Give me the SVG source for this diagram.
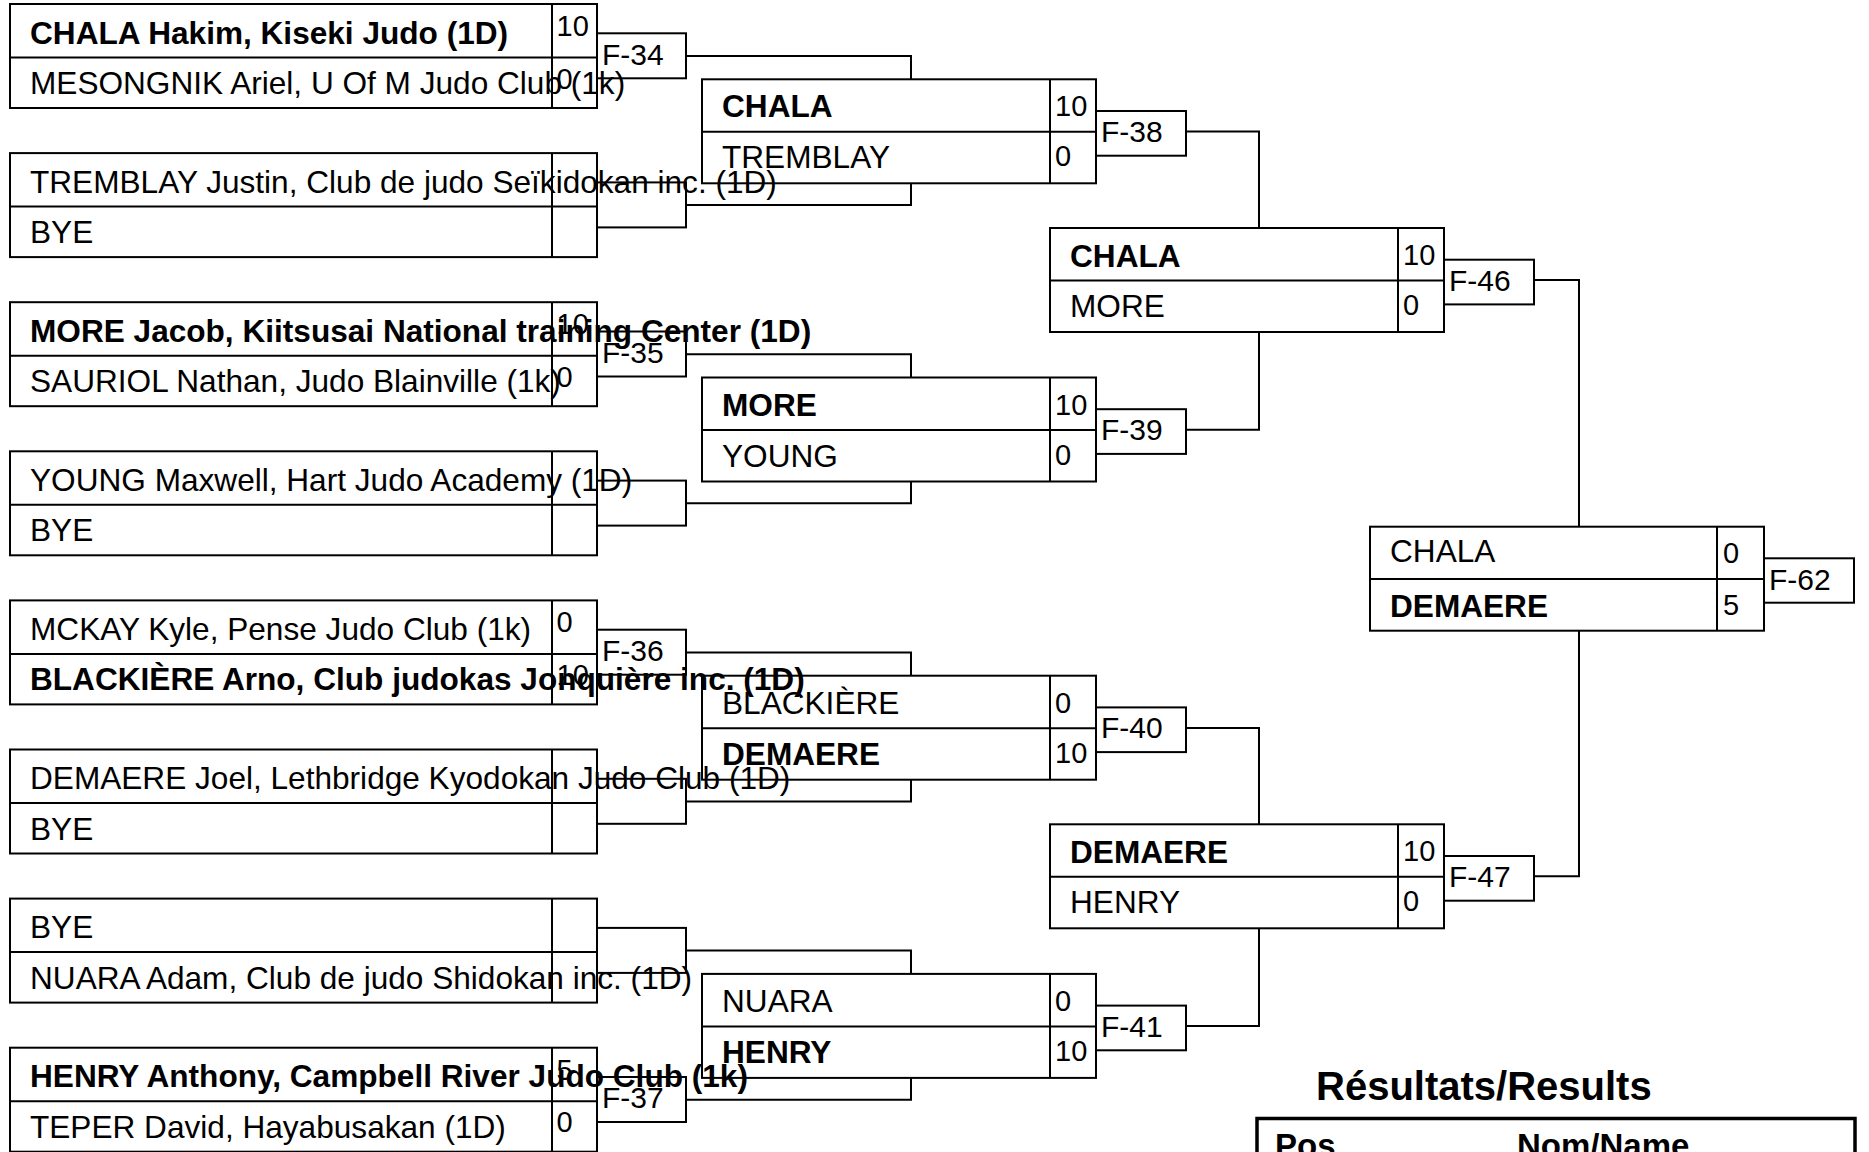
<svg xmlns="http://www.w3.org/2000/svg" width="1869" height="1152" viewBox="0 0 1869 1152">
<style>
  .b { fill: none; stroke: #000; stroke-width: 2; }
  .c { fill: none; stroke: #000; stroke-width: 2; }
  text { font-family: "Liberation Sans", Arial, sans-serif; fill: #000; }
  .n { font-size: 31.6px; }
  .w { font-size: 31.6px; font-weight: bold; }
  .s { font-size: 29px; }
  .f { font-size: 30px; }
  .h { font-size: 40px; font-weight: bold; }
  .t { font-size: 33px; font-weight: bold; }
</style>
<rect width="1869" height="1152" fill="#fff"/>

<!-- Round 1 -->
<g id="m1">
  <rect class="b" x="10" y="4" width="587" height="104"/>
  <line class="b" x1="10" y1="57.5" x2="597" y2="57.5"/>
  <line class="b" x1="552" y1="4" x2="552" y2="108"/>
  <rect class="b" x="597" y="33.3" width="89" height="45"/>
  <text class="w" x="30" y="43.5">CHALA Hakim, Kiseki Judo (1D)</text>
  <text class="n" x="30" y="94">MESONGNIK Ariel, U Of M Judo Club (1k)</text>
  <text class="s" x="556.5" y="36">10</text>
  <text class="s" x="556.5" y="88.5">0</text>
  <text class="f" x="602" y="64.5">F-34</text>
</g>
<g id="m2">
  <rect class="b" x="10" y="153.1" width="587" height="104"/>
  <line class="b" x1="10" y1="206.6" x2="597" y2="206.6"/>
  <line class="b" x1="552" y1="153.1" x2="552" y2="257.1"/>
  <rect class="b" x="597" y="182.4" width="89" height="45"/>
  <text class="n" x="30" y="192.6">TREMBLAY Justin, Club de judo Seïkidokan inc. (1D)</text>
  <text class="n" x="30" y="243.1">BYE</text>
</g>
<g id="m3">
  <rect class="b" x="10" y="302.2" width="587" height="104"/>
  <line class="b" x1="10" y1="355.7" x2="597" y2="355.7"/>
  <line class="b" x1="552" y1="302.2" x2="552" y2="406.2"/>
  <rect class="b" x="597" y="331.5" width="89" height="45"/>
  <text class="w" x="30" y="341.7">MORE Jacob, Kiitsusai National training Center (1D)</text>
  <text class="n" x="30" y="392.2">SAURIOL Nathan, Judo Blainville (1k)</text>
  <text class="s" x="556.5" y="334.2">10</text>
  <text class="s" x="556.5" y="386.7">0</text>
  <text class="f" x="602" y="362.7">F-35</text>
</g>
<g id="m4">
  <rect class="b" x="10" y="451.3" width="587" height="104"/>
  <line class="b" x1="10" y1="504.8" x2="597" y2="504.8"/>
  <line class="b" x1="552" y1="451.3" x2="552" y2="555.3"/>
  <rect class="b" x="597" y="480.6" width="89" height="45"/>
  <text class="n" x="30" y="490.8">YOUNG Maxwell, Hart Judo Academy (1D)</text>
  <text class="n" x="30" y="541.3">BYE</text>
</g>
<g id="m5">
  <rect class="b" x="10" y="600.4" width="587" height="104"/>
  <line class="b" x1="10" y1="653.9" x2="597" y2="653.9"/>
  <line class="b" x1="552" y1="600.4" x2="552" y2="704.4"/>
  <rect class="b" x="597" y="629.7" width="89" height="45"/>
  <text class="n" x="30" y="639.9">MCKAY Kyle, Pense Judo Club (1k)</text>
  <text class="w" x="30" y="690.4">BLACKIÈRE Arno, Club judokas Jonquière inc. (1D)</text>
  <text class="s" x="556.5" y="632.4">0</text>
  <text class="s" x="556.5" y="684.9">10</text>
  <text class="f" x="602" y="660.9">F-36</text>
</g>
<g id="m6">
  <rect class="b" x="10" y="749.5" width="587" height="104"/>
  <line class="b" x1="10" y1="803" x2="597" y2="803"/>
  <line class="b" x1="552" y1="749.5" x2="552" y2="853.5"/>
  <rect class="b" x="597" y="778.8" width="89" height="45"/>
  <text class="n" x="30" y="789">DEMAERE Joel, Lethbridge Kyodokan Judo Club (1D)</text>
  <text class="n" x="30" y="839.5">BYE</text>
</g>
<g id="m7">
  <rect class="b" x="10" y="898.6" width="587" height="104"/>
  <line class="b" x1="10" y1="952.1" x2="597" y2="952.1"/>
  <line class="b" x1="552" y1="898.6" x2="552" y2="1002.6"/>
  <rect class="b" x="597" y="927.9" width="89" height="45"/>
  <text class="n" x="30" y="938.1">BYE</text>
  <text class="n" x="30" y="988.6">NUARA Adam, Club de judo Shidokan inc. (1D)</text>
</g>
<g id="m8">
  <rect class="b" x="10" y="1047.7" width="587" height="104"/>
  <line class="b" x1="10" y1="1101.2" x2="597" y2="1101.2"/>
  <line class="b" x1="552" y1="1047.7" x2="552" y2="1151.7"/>
  <rect class="b" x="597" y="1077" width="89" height="45"/>
  <text class="w" x="30" y="1087.2">HENRY Anthony, Campbell River Judo Club (1k)</text>
  <text class="n" x="30" y="1137.7">TEPER David, Hayabusakan (1D)</text>
  <text class="s" x="556.5" y="1079.7">5</text>
  <text class="s" x="556.5" y="1132.2">0</text>
  <text class="f" x="602" y="1108.2">F-37</text>
</g>

<!-- Round 2 -->
<g id="m9">
  <rect class="b" x="702" y="79.3" width="394" height="104"/>
  <line class="b" x1="702" y1="131.8" x2="1096" y2="131.8"/>
  <line class="b" x1="1050" y1="79.3" x2="1050" y2="183.3"/>
  <rect class="b" x="1096" y="111" width="90" height="44.7"/>
  <text class="w" x="722" y="117.3">CHALA</text>
  <text class="n" x="722" y="168.3">TREMBLAY</text>
  <text class="s" x="1055" y="116.3">10</text>
  <text class="s" x="1055" y="166.3">0</text>
  <text class="f" x="1101" y="142">F-38</text>
</g>
<g id="m10">
  <rect class="b" x="702" y="377.5" width="394" height="104"/>
  <line class="b" x1="702" y1="430" x2="1096" y2="430"/>
  <line class="b" x1="1050" y1="377.5" x2="1050" y2="481.5"/>
  <rect class="b" x="1096" y="409.2" width="90" height="44.7"/>
  <text class="w" x="722" y="415.5">MORE</text>
  <text class="n" x="722" y="466.5">YOUNG</text>
  <text class="s" x="1055" y="414.5">10</text>
  <text class="s" x="1055" y="464.5">0</text>
  <text class="f" x="1101" y="440.2">F-39</text>
</g>
<g id="m11">
  <rect class="b" x="702" y="675.7" width="394" height="104"/>
  <line class="b" x1="702" y1="728.2" x2="1096" y2="728.2"/>
  <line class="b" x1="1050" y1="675.7" x2="1050" y2="779.7"/>
  <rect class="b" x="1096" y="707.4" width="90" height="44.7"/>
  <text class="n" x="722" y="713.7">BLACKIÈRE</text>
  <text class="w" x="722" y="764.7">DEMAERE</text>
  <text class="s" x="1055" y="712.7">0</text>
  <text class="s" x="1055" y="762.7">10</text>
  <text class="f" x="1101" y="738.4">F-40</text>
</g>
<g id="m12">
  <rect class="b" x="702" y="973.9" width="394" height="104"/>
  <line class="b" x1="702" y1="1026.4" x2="1096" y2="1026.4"/>
  <line class="b" x1="1050" y1="973.9" x2="1050" y2="1077.9"/>
  <rect class="b" x="1096" y="1005.6" width="90" height="44.7"/>
  <text class="n" x="722" y="1011.9">NUARA</text>
  <text class="w" x="722" y="1062.9">HENRY</text>
  <text class="s" x="1055" y="1010.9">0</text>
  <text class="s" x="1055" y="1060.9">10</text>
  <text class="f" x="1101" y="1036.6">F-41</text>
</g>

<!-- Round 3 -->
<g id="m13">
  <rect class="b" x="1050" y="228" width="394" height="104"/>
  <line class="b" x1="1050" y1="280.5" x2="1444" y2="280.5"/>
  <line class="b" x1="1398" y1="228" x2="1398" y2="332"/>
  <rect class="b" x="1444" y="259.7" width="90" height="44.7"/>
  <text class="w" x="1070" y="266.5">CHALA</text>
  <text class="n" x="1070" y="317">MORE</text>
  <text class="s" x="1403" y="265">10</text>
  <text class="s" x="1403" y="315">0</text>
  <text class="f" x="1449" y="290.7">F-46</text>
</g>
<g id="m14">
  <rect class="b" x="1050" y="824.3" width="394" height="104"/>
  <line class="b" x1="1050" y1="876.8" x2="1444" y2="876.8"/>
  <line class="b" x1="1398" y1="824.3" x2="1398" y2="928.3"/>
  <rect class="b" x="1444" y="856" width="90" height="44.7"/>
  <text class="w" x="1070" y="862.8">DEMAERE</text>
  <text class="n" x="1070" y="913.3">HENRY</text>
  <text class="s" x="1403" y="861.3">10</text>
  <text class="s" x="1403" y="911.3">0</text>
  <text class="f" x="1449" y="887">F-47</text>
</g>

<!-- Final -->
<g id="m15">
  <rect class="b" x="1370" y="526.7" width="394" height="104"/>
  <line class="b" x1="1370" y1="579" x2="1764" y2="579"/>
  <line class="b" x1="1717" y1="526.7" x2="1717" y2="630.7"/>
  <rect class="b" x="1764" y="558.3" width="90" height="44.4"/>
  <text class="n" x="1390" y="561.7">CHALA</text>
  <text class="w" x="1390" y="617.3">DEMAERE</text>
  <text class="s" x="1723" y="563">0</text>
  <text class="s" x="1723" y="615">5</text>
  <text class="f" x="1769" y="589.5">F-62</text>
</g>

<!-- Connectors -->
<g id="connectors" class="c">
  <path d="M686 56 H911 V79.3"/>
  <path d="M686 205.1 H911 V183.3"/>
  <path d="M686 354.2 H911 V377.5"/>
  <path d="M686 503.3 H911 V481.5"/>
  <path d="M686 652.4 H911 V675.7"/>
  <path d="M686 801.5 H911 V779.7"/>
  <path d="M686 950.6 H911 V973.9"/>
  <path d="M686 1099.7 H911 V1077.9"/>
  <path d="M1186 131.5 H1259 V228"/>
  <path d="M1186 429.7 H1259 V332"/>
  <path d="M1186 727.9 H1259 V824.3"/>
  <path d="M1186 1026.1 H1259 V928.3"/>
  <path d="M1534 280 H1579 V526.7"/>
  <path d="M1534 876.3 H1579 V630.7"/>
</g>

<!-- Results -->
<g id="results">
  <text class="h" x="1316" y="1100">Résultats/Results</text>
  <rect x="1257" y="1118.5" width="598" height="100" fill="none" stroke="#000" stroke-width="3.5"/>
  <text class="t" x="1275" y="1157">Pos</text>
  <text class="t" x="1517" y="1157">Nom/Name</text>
</g>
</svg>
